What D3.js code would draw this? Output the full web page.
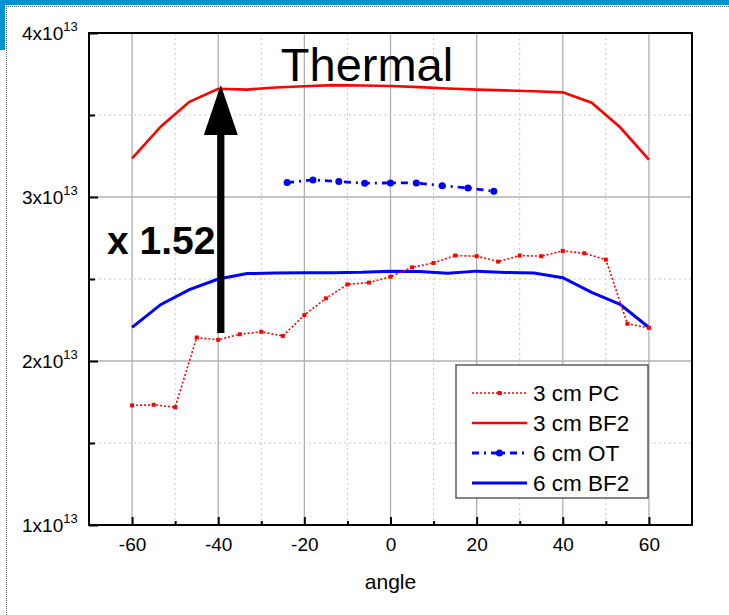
<!DOCTYPE html>
<html>
<head>
<meta charset="utf-8">
<script src="https://cdn.jsdelivr.net/npm/d3@7"></script>
<style>
  body { margin: 0; background: #fff; }
  text { font-family: "Liberation Sans", Arial, sans-serif; fill: #000; }
</style>
</head>
<body>
<svg id="chart" width="729" height="615"></svg>
<script>
// values, y in units of 1e13
const anglePC = [-60,-55,-50,-45,-40,-35,-30,-25,-20,-15,-10,-5,0,5,10,15,20,25,30,35,40,45,50,55,60];
const pc3cm = [1.729,1.733,1.718,2.143,2.129,2.163,2.178,2.153,2.28,2.382,2.467,2.478,2.514,2.571,2.598,2.643,2.639,2.606,2.643,2.639,2.671,2.657,2.618,2.227,2.202];

const angleBF2 = [-60,-53.3,-46.7,-40,-33.3,-26.7,-20,-13.3,-6.7,0,6.7,13.3,20,26.7,33.3,40,46.7,53.3,60];
const bf2_3cm = [3.235,3.43,3.58,3.66,3.655,3.668,3.675,3.682,3.68,3.677,3.67,3.662,3.655,3.65,3.645,3.638,3.575,3.425,3.228];
const bf2_6cm = [2.205,2.345,2.435,2.5,2.533,2.536,2.538,2.538,2.541,2.548,2.545,2.535,2.548,2.54,2.537,2.508,2.418,2.345,2.204];

const angleOT = [-24,-18,-12,-6,0,6,12,18,24];
const ot6cm = [3.088,3.104,3.094,3.084,3.086,3.086,3.069,3.055,3.035];

const xMajor = [-60,-40,-20,0,20,40,60];
const xMinor = [-50,-30,-10,10,30,50];
const yMajor = [1,2,3,4];
const yMinor = [1.5,2.5,3.5];

const legendItems = ["3 cm PC", "3 cm BF2", "6 cm OT", "6 cm BF2"];

const svg = d3.select("#chart");

// page decoration
svg.append("rect").attr("x", 0).attr("y", 0).attr("width", 729).attr("height", 5).attr("fill", "#0093c9");
svg.append("rect").attr("x", 0).attr("y", 0).attr("width", 5).attr("height", 50).attr("fill", "#0093c9");
svg.append("line").attr("x1", 6).attr("x2", 729).attr("y1", 6.5).attr("y2", 6.5)
    .attr("stroke", "#666").attr("stroke-dasharray", "1,1");
svg.append("line").attr("x1", 6.5).attr("x2", 6.5).attr("y1", 6).attr("y2", 615)
    .attr("stroke", "#666").attr("stroke-dasharray", "1,1");

let margin = {top: 33, right: 37, bottom: 90, left: 89},
    width = 729 - margin.left - margin.right,
    height = 615 - margin.top - margin.bottom;

let x = d3.scaleLinear().domain([-70, 70]).range([margin.left, margin.left + width]);
let y = d3.scaleLinear().domain([1, 4]).range([margin.top + height, margin.top]);

// grid
let grid = svg.append("g").attr("class", "grid");
grid.selectAll(".gx").data(xMajor).enter().append("line")
    .attr("x1", d => x(d)).attr("x2", d => x(d))
    .attr("y1", y(1)).attr("y2", y(4))
    .attr("stroke", "#b0b0b0").attr("stroke-width", 1.3);
grid.selectAll(".gxm").data(xMinor).enter().append("line")
    .attr("x1", d => x(d)).attr("x2", d => x(d))
    .attr("y1", y(1)).attr("y2", y(4))
    .attr("stroke", "#c8c8c8").attr("stroke-dasharray", "2,3");
grid.selectAll(".gy").data([2, 3]).enter().append("line")
    .attr("y1", d => y(d)).attr("y2", d => y(d))
    .attr("x1", x(-70)).attr("x2", x(70))
    .attr("stroke", "#b0b0b0").attr("stroke-width", 1.3);
grid.selectAll(".gym").data(yMinor).enter().append("line")
    .attr("y1", d => y(d)).attr("y2", d => y(d))
    .attr("x1", x(-70)).attr("x2", x(70))
    .attr("stroke", "#c8c8c8").attr("stroke-dasharray", "2,3");

// axes
svg.append("g")
    .attr("transform", `translate(0,${y(1)})`)
    .call(d3.axisBottom(x).tickValues(xMajor).tickSize(-8).tickPadding(13).tickFormat(d => String(d)))
    .call(g => g.select(".domain").remove())
    .call(g => g.selectAll("line").attr("stroke", "#000").attr("stroke-width", 2))
    .call(g => g.selectAll("text").attr("font-size", 19).attr("font-family", "Liberation Sans"));
svg.append("g")
    .attr("transform", `translate(0,${y(1)})`)
    .call(d3.axisBottom(x).tickValues(xMinor).tickSize(-4).tickFormat(""))
    .call(g => g.select(".domain").remove())
    .call(g => g.selectAll("line").attr("stroke", "#000").attr("stroke-width", 2));

svg.append("g")
    .attr("transform", `translate(${x(-70)},0)`)
    .call(d3.axisLeft(y).tickValues(yMajor).tickSize(-9).tickFormat(""))
    .call(g => g.select(".domain").remove())
    .call(g => g.selectAll("line").attr("stroke", "#000").attr("stroke-width", 2));
svg.append("g")
    .attr("transform", `translate(${x(-70)},0)`)
    .call(d3.axisLeft(y).tickValues(yMinor).tickSize(-6).tickFormat(""))
    .call(g => g.select(".domain").remove())
    .call(g => g.selectAll("line").attr("stroke", "#000").attr("stroke-width", 2));

// y tick labels like 3x10^13
let ylab = svg.append("g").selectAll("text").data(yMajor).enter().append("text")
    .attr("x", 22).attr("y", d => y(d) + 7)
    .attr("font-size", 19);
ylab.append("tspan").text(d => d + "x10");
ylab.append("tspan").attr("dy", -9).attr("font-size", 13).text("13");

svg.append("text")
    .attr("x", x(0)).attr("y", 589)
    .attr("text-anchor", "middle").attr("font-size", 21)
    .text("angle");

// series
const line = (xs) => d3.line().x((d, i) => x(xs[i])).y(d => y(d));

svg.append("path").datum(bf2_3cm)
    .attr("d", line(angleBF2)).attr("fill", "none")
    .attr("stroke", "#ff0000").attr("stroke-width", 2.6);

svg.append("path").datum(bf2_6cm)
    .attr("d", line(angleBF2)).attr("fill", "none")
    .attr("stroke", "#0000ff").attr("stroke-width", 3);

svg.append("path").datum(pc3cm)
    .attr("d", line(anglePC)).attr("fill", "none")
    .attr("stroke", "#ff0000").attr("stroke-width", 1.6).attr("stroke-dasharray", "2,2");
svg.append("g").selectAll("rect").data(pc3cm).enter().append("rect")
    .attr("x", (d, i) => x(anglePC[i]) - 2).attr("y", d => y(d) - 2)
    .attr("width", 4).attr("height", 4).attr("fill", "#ff0000");

svg.append("path").datum(ot6cm)
    .attr("d", line(angleOT)).attr("fill", "none")
    .attr("stroke", "#0000ff").attr("stroke-width", 2.8).attr("stroke-dasharray", "7,5,2,5");
svg.append("g").selectAll("circle").data(ot6cm).enter().append("circle")
    .attr("cx", (d, i) => x(angleOT[i])).attr("cy", d => y(d))
    .attr("r", 3.5).attr("fill", "#0000ff");

// frame
svg.append("rect")
    .attr("x", x(-70)).attr("y", y(4))
    .attr("width", x(70) - x(-70)).attr("height", y(1) - y(4))
    .attr("fill", "none").attr("stroke", "#000").attr("stroke-width", 2);

// annotations
const ax = x(-39.4), yTip = 85, yBase = 333;
svg.append("path")
    .attr("d", `M${ax},${yTip} L${ax + 17},${yTip + 50} L${ax + 3.6},${yTip + 50} L${ax + 3.6},${yBase}
                L${ax - 3.6},${yBase} L${ax - 3.6},${yTip + 50} L${ax - 17},${yTip + 50} Z`)
    .attr("fill", "#000");

svg.append("text")
    .attr("x", 367).attr("y", 81)
    .attr("text-anchor", "middle").attr("font-size", 47)
    .text("Thermal");

svg.append("text")
    .attr("x", 107).attr("y", 254)
    .attr("font-size", 39).attr("font-weight", "bold")
    .text("x 1.52");

// legend
let legend = svg.append("g").attr("transform", "translate(456,365)");
legend.append("rect").attr("width", 192).attr("height", 133)
    .attr("fill", "#fff").attr("stroke", "#444").attr("stroke-width", 1.3);

let rows = legend.selectAll(".row").data(legendItems).enter().append("g")
    .attr("transform", (d, i) => `translate(0,${28 + i * 30})`);
rows.append("text").attr("x", 77).attr("y", 8).attr("font-size", 22.5).text(d => d);

const styles = [
    {color: "#ff0000", w: 1.6, dash: "2,2", marker: "rect"},
    {color: "#ff0000", w: 2.6, dash: null, marker: null},
    {color: "#0000ff", w: 2.8, dash: "7,5,2,5", marker: "circle"},
    {color: "#0000ff", w: 3, dash: null, marker: null}
];
rows.each(function(d, i) {
    let s = styles[i], g = d3.select(this);
    g.append("line").attr("x1", 16).attr("x2", 71).attr("y1", 0).attr("y2", 0)
        .attr("stroke", s.color).attr("stroke-width", s.w)
        .attr("stroke-dasharray", s.dash);
    if (s.marker === "rect") {
        g.append("rect").attr("x", 41.5).attr("y", -2).attr("width", 4).attr("height", 4).attr("fill", s.color);
    } else if (s.marker === "circle") {
        g.append("circle").attr("cx", 43.5).attr("cy", 0).attr("r", 3.5).attr("fill", s.color);
    }
});
</script>
</body>
</html>
